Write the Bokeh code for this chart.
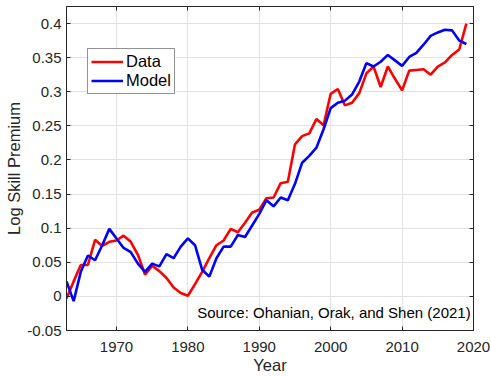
from bokeh.plotting import figure
from bokeh.models import Range1d, FixedTicker, LinearAxis, Legend, LegendItem, Label
from bokeh.embed import file_html
from bokeh.resources import INLINE

years = [1963, 1964, 1965, 1966, 1967, 1968, 1969, 1970, 1971, 1972,
         1973, 1974, 1975, 1976, 1977, 1978, 1979, 1980, 1981, 1982,
         1983, 1984, 1985, 1986, 1987, 1988, 1989, 1990, 1991, 1992,
         1993, 1994, 1995, 1996, 1997, 1998, 1999, 2000, 2001, 2002,
         2003, 2004, 2005, 2006, 2007, 2008, 2009, 2010, 2011, 2012,
         2013, 2014, 2015, 2016, 2017, 2018, 2019]

data_premium = [-0.003, 0.022, 0.046, 0.046, 0.083, 0.074, 0.080, 0.082, 0.089, 0.080,
                0.061, 0.032, 0.045, 0.037, 0.027, 0.013, 0.005, 0.001, 0.018, 0.036,
                0.056, 0.075, 0.082, 0.099, 0.094, 0.108, 0.123, 0.127, 0.144, 0.145,
                0.166, 0.168, 0.223, 0.235, 0.239, 0.260, 0.251, 0.297, 0.304, 0.280,
                0.284, 0.298, 0.327, 0.337, 0.307, 0.337, 0.319, 0.302, 0.331, 0.332,
                0.333, 0.325, 0.337, 0.343, 0.354, 0.362, 0.400]

model_premium = [0.022, -0.007, 0.036, 0.060, 0.053, 0.075, 0.099, 0.085, 0.071, 0.065,
                 0.048, 0.036, 0.048, 0.044, 0.062, 0.056, 0.073, 0.085, 0.075, 0.039,
                 0.029, 0.056, 0.073, 0.073, 0.090, 0.087, 0.104, 0.121, 0.141, 0.132,
                 0.145, 0.141, 0.165, 0.196, 0.206, 0.218, 0.245, 0.276, 0.284, 0.287,
                 0.296, 0.315, 0.342, 0.337, 0.344, 0.354, 0.346, 0.338, 0.351, 0.357,
                 0.369, 0.382, 0.387, 0.391, 0.390, 0.375, 0.370]

x_ticks = [1970, 1980, 1990, 2000, 2010, 2020]
y_ticks = [-0.05, 0.0, 0.05, 0.1, 0.15, 0.2, 0.25, 0.3, 0.35, 0.4]
y_tick_labels = ["-0.05", "0", "0.05", "0.1", "0.15", "0.2", "0.25", "0.3", "0.35", "0.4"]
series_names = ["Data", "Model"]
source_note = "Source: Ohanian, Orak, and Shen (2021)"

FONT = "Liberation Sans"
INK = "#262626"
GRID = "#e2e2e2"

p = figure(width=491, height=376, output_backend="svg", toolbar_location=None,
           x_range=Range1d(1963, 2020), y_range=Range1d(-0.05, 0.425),
           min_border_left=66, min_border_right=18, min_border_top=6, min_border_bottom=44,
           background_fill_color="white", border_fill_color="white")

p.outline_line_color = INK
p.outline_line_width = 1

xt = FixedTicker(ticks=x_ticks)
yt = FixedTicker(ticks=y_ticks)

p.xaxis.ticker = xt
p.yaxis.ticker = yt
p.yaxis.major_label_overrides = {v: s for v, s in zip(y_ticks, y_tick_labels)}
p.xgrid.ticker = xt
p.ygrid.ticker = yt
p.xgrid.grid_line_color = GRID
p.ygrid.grid_line_color = GRID

for ax in (p.xaxis[0], p.yaxis[0]):
    ax.axis_line_color = INK
    ax.major_tick_line_color = INK
    ax.major_tick_in = 4
    ax.major_tick_out = 0
    ax.minor_tick_line_color = None
    ax.major_label_text_font = FONT
    ax.major_label_text_font_size = "15px"
    ax.major_label_text_color = INK
    ax.axis_label_text_font = FONT
    ax.axis_label_text_font_size = "16.5px"
    ax.axis_label_text_color = INK
    ax.axis_label_text_font_style = "normal"

p.xaxis.axis_label = "Year"
p.yaxis.axis_label = "Log Skill Premium"
p.xaxis.major_label_standoff = 11
p.xaxis.axis_label_standoff = 1
p.yaxis.major_label_standoff = 5
p.yaxis.axis_label_standoff = 1

for loc, tk in (("above", xt), ("right", yt)):
    ax = LinearAxis(ticker=tk, major_label_text_font_size="0px", major_label_standoff=0,
                    major_tick_in=4, major_tick_out=0, minor_tick_line_color=None,
                    axis_line_color=INK, major_tick_line_color=INK)
    ax.major_label_text_color = None
    p.add_layout(ax, loc)

r_data = p.line(years, data_premium, line_color="#ff0000", line_width=2.6)
r_model = p.line(years, model_premium, line_color="#0000ff", line_width=2.6)

legend = Legend(items=[LegendItem(label=series_names[0], renderers=[r_data]),
                       LegendItem(label=series_names[1], renderers=[r_model])],
                location=(21, 236), padding=3, spacing=0, margin=0,
                glyph_width=32, glyph_height=19, label_height=19, label_standoff=3,
                label_text_font=FONT, label_text_font_size="16.5px", label_text_color="#000000",
                border_line_color=INK, border_line_width=1, background_fill_color="white",
                background_fill_alpha=1.0)
p.add_layout(legend)

note = Label(x=1981.3, y=-0.0238, text=source_note, text_baseline="middle", text_align="left",
             text_font=FONT, text_font_size="15px", text_color="#000000")
p.add_layout(note)

open("out.html", "w").write(file_html(p, INLINE))
